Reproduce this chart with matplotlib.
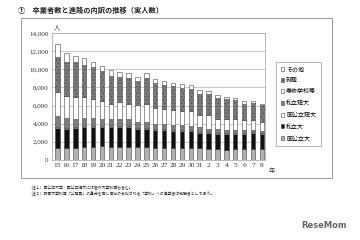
import numpy as np
import matplotlib.pyplot as plt
from matplotlib.patches import Patch, Rectangle

plt.rcParams['font.family'] = ['Noto Sans CJK JP', 'DejaVu Sans']
plt.rcParams['hatch.linewidth'] = 0.4

# fiscal years (Heisei 15-31, then Reiwa 2-8)
years = ['15', '16', '17', '18', '19', '20', '21', '22', '23', '24', '25', '26',
         '27', '28', '29', '30', '31', '2', '3', '4', '5', '6', '7', '8']

# stacked from the bottom
kokkou_dai = [1370, 1350, 1350, 1460, 1460, 1530, 1460, 1460, 1460, 1400, 1400, 1350,
              1350, 1350, 1350, 1350, 1300, 1200, 1170, 1130, 1200, 1200, 1200, 1200]
shiritsu_dai = [2130, 2070, 2190, 2190, 2190, 2120, 2190, 2190, 2190, 1990, 1990, 1930,
                1930, 1860, 1860, 1860, 1730, 1830, 1750, 1790, 1720, 1720, 1800, 1720]
kokkou_tan = [150, 150, 140, 140, 130, 130, 120, 120, 120, 110, 110, 100,
              100, 100, 90, 90, 90, 80, 80, 80, 70, 70, 70, 60]
shiritsu_tan = [1200, 1060, 880, 880, 890, 710, 720, 790, 790, 690, 690, 630,
                560, 520, 530, 500, 470, 350, 400, 300, 290, 290, 230, 180]
senshu = [2700, 2410, 2440, 2260, 2000, 1960, 1640, 1820, 1640, 1830, 2010, 1720,
          1710, 1640, 1530, 1580, 1320, 1460, 1100, 1260, 1210, 1100, 1080, 1030]
shushoku = [3830, 3720, 3760, 3570, 3540, 3400, 3170, 2740, 2840, 2730, 2840, 2730,
            2630, 2660, 2590, 2480, 2400, 2370, 2370, 2110, 2080, 1820, 1890, 1830]
sonota = [1450, 1020, 730, 700, 620, 500, 580, 540, 550, 440, 550, 440,
          440, 320, 420, 360, 390, 350, 290, 280, 250, 260, 220, 180]

series = [
    ('国公立大', kokkou_dai, '#b0b0b0', None),
    ('私立大', shiritsu_dai, '#111111', None),
    ('国公立短大', kokkou_tan, '#ffffff', None),
    ('私立短大', shiritsu_tan, '#7c7c7c', None),
    ('専修学校等', senshu, '#ffffff', None),
    ('就職', shushoku, '#7a7a7a', '.....'),
    ('その他', sonota, '#ffffff', None),
]

W, H = 360, 240
fig = plt.figure(figsize=(3.6, 2.4), dpi=100)

# outer frame around the chart
fig.patches.append(Rectangle((21 / W, 1 - 178 / H), (332 - 21) / W, (178 - 18) / H,
                             transform=fig.transFigure, fill=False,
                             edgecolor='#8c8c8c', lw=0.6))

fig.text(18 / W, 1 - 10 / H, '①　卒業者数と進路の内訳の推移（実人数）',
         fontsize=5.2, va='center', ha='left', weight='bold', color='#222222')

ax = fig.add_axes([52 / W, 1 - 160 / H, (265 - 52) / W, (160 - 33) / H])

x = np.arange(len(years))
bottom = np.zeros(len(years))
handles = []
for name, vals, col, hatch in series:
    vals = np.array(vals)
    ax.bar(x, vals, 0.5, bottom=bottom, color=col, edgecolor='#444444',
           linewidth=0.4, hatch=hatch, zorder=3)
    bottom += vals
    handles.append(Patch(facecolor=col, edgecolor='#444444', linewidth=0.4, hatch=hatch))

ax.set_xlim(-0.62, 23.35)
ax.set_ylim(0, 14000)
ax.set_yticks(np.arange(0, 14001, 2000))
ax.set_yticklabels(['0'] + [f'{v:,}' for v in range(2000, 14001, 2000)],
                   family='Liberation Serif', fontsize=5, color='#333333')
ax.set_xticks(x)
ax.set_xticklabels(years, family='Liberation Serif', fontsize=5.3, color='#333333')
ax.tick_params(length=0, pad=2.5)
ax.grid(axis='y', color='#c0c0c0', lw=0.6, zorder=0)
for s in ax.spines.values():
    s.set_color('#b0b0b0')
    s.set_linewidth(0.6)

fig.text(57 / W, 1 - 28 / H, '人', fontsize=4.5, ha='center', va='center', color='#333333')
fig.text(272 / W, 1 - 171 / H, '年', fontsize=4.5, ha='center', va='center', color='#333333')

leg = fig.legend(handles[::-1], [s[0] for s in series][::-1], loc='upper left',
                 bbox_to_anchor=(273 / W, 1 - 59 / H), fontsize=4.3,
                 handlelength=0.6, handleheight=0.6, handletextpad=0.3,
                 labelspacing=1.0, borderpad=0.8, fancybox=False, framealpha=1)
leg.get_frame().set_edgecolor('#999999')
leg.get_frame().set_linewidth(0.5)

fig.text(28 / W, 1 - 188 / H, '（注１）国公立大学・国公立短大には管外大学校等も含む。',
         fontsize=2.8, ha='left', va='center', color='#222222')
fig.text(28 / W, 1 - 194 / H,
         '（注２）防衛大学校等「公務員」の身分を有し俸給の支給される「学校」への進学者は就職者として扱う。',
         fontsize=2.8, ha='left', va='center', color='#222222')

fig.text(347 / W, 1 - 225 / H, 'ReseMom', fontsize=6, ha='right', va='center',
         color='#666666', weight='bold', family='DejaVu Sans')

fig.savefig('out.png', dpi=100)
